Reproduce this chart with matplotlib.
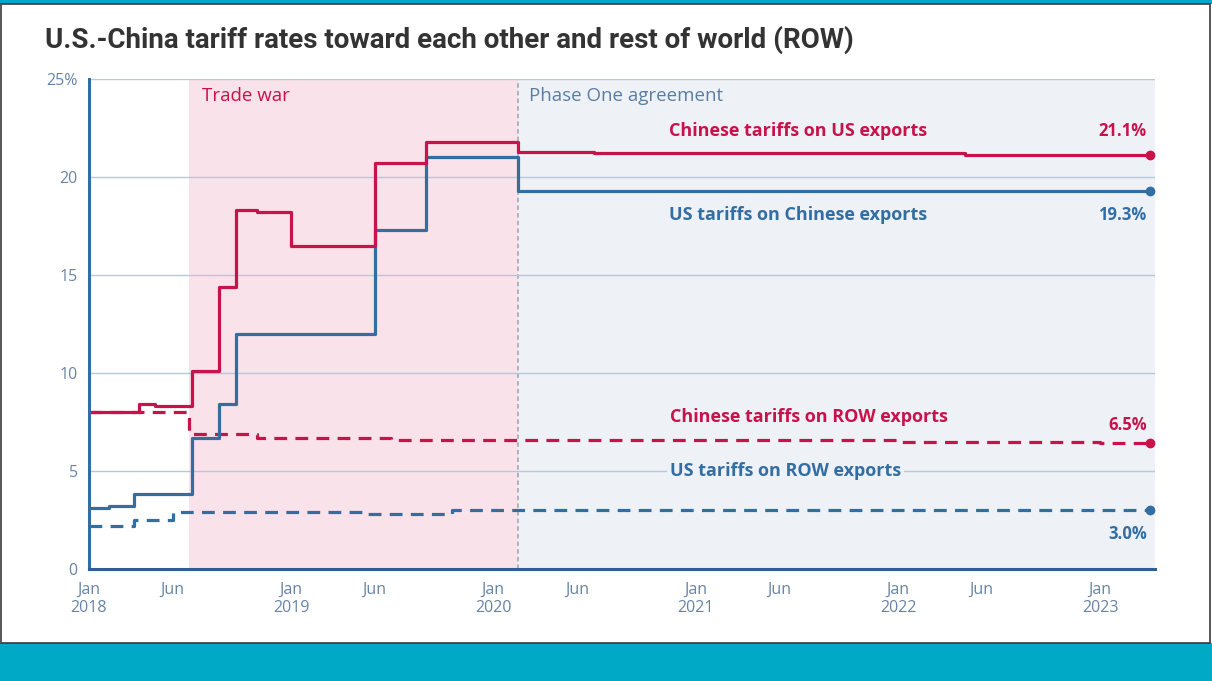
import matplotlib
matplotlib.use("Agg")
import matplotlib.pyplot as plt
import pandas as pd
from matplotlib.patches import Rectangle

# ---------------------------------------------------
# data
# ---------------------------------------------------
cn_us_dates = ["2018-01-01", "2018-04-02", "2018-05-01", "2018-07-06", "2018-08-23",
               "2018-09-24", "2018-11-01", "2019-01-01", "2019-06-01", "2019-09-01",
               "2020-02-14", "2020-07-01", "2022-05-01", "2023-04-01"]
cn_us_vals = [8.0, 8.4, 8.3, 10.1, 14.4, 18.3, 18.2, 16.5, 20.7, 21.8, 21.3, 21.2, 21.1, 21.1]

us_cn_dates = ["2018-01-01", "2018-02-07", "2018-03-23", "2018-07-06", "2018-08-23",
               "2018-09-24", "2019-06-01", "2019-09-01", "2020-02-14", "2023-04-01"]
us_cn_vals = [3.1, 3.2, 3.8, 6.7, 8.4, 12.0, 17.3, 21.0, 19.3, 19.3]

cn_row_dates = ["2018-01-01", "2018-07-01", "2018-11-01", "2019-07-01", "2022-01-01",
                "2023-01-01", "2023-04-01"]
cn_row_vals = [8.0, 6.9, 6.7, 6.6, 6.5, 6.45, 6.45]

us_row_dates = ["2018-01-01", "2018-03-23", "2018-06-01", "2019-05-20", "2019-10-18",
                "2023-04-01"]
us_row_vals = [2.2, 2.5, 2.9, 2.8, 3.0, 3.0]

end_labels = ["21.1%", "19.3%", "6.5%", "3.0%"]
series_names = ["Chinese tariffs on US exports", "US tariffs on Chinese exports",
                "Chinese tariffs on ROW exports", "US tariffs on ROW exports"]

tick_dates = ["2018-01-01", "2018-06-01", "2019-01-01", "2019-06-01", "2020-01-01",
              "2020-06-01", "2021-01-01", "2021-06-01", "2022-01-01", "2022-06-01",
              "2023-01-01"]
tick_labels = ["Jan\n2018", "Jun", "Jan\n2019", "Jun", "Jan\n2020", "Jun",
               "Jan\n2021", "Jun", "Jan\n2022", "Jun", "Jan\n2023"]

trade_war = ("2018-07-01", "2020-02-14")

# ---------------------------------------------------
# style
# ---------------------------------------------------
RED = "#c8124a"
BLUE = "#336ea3"
TICK = "#6784a6"
GRID = "#b9c7d6"
PINK = "#f9e2e9"
PALE = "#eef2f7"
TEAL = "#00aac6"
TITLE = "#333333"
FONT = "Open Sans"

D = pd.to_datetime

fig = plt.figure(figsize=(12.12, 6.81), dpi=100)
ax = fig.add_axes([0.0734, 0.1645, 0.8796, 0.7195])

xmin, xmax = D("2018-01-01"), D("2023-04-10")
ax.set_xlim(xmin, xmax)
ax.set_ylim(0, 25)

ax.axvspan(D(trade_war[0]), D(trade_war[1]), color=PINK, lw=0, zorder=0)
ax.axvspan(D(trade_war[1]), xmax, color=PALE, lw=0, zorder=0)
ax.axvline(D(trade_war[1]), color="#9aa3b0", lw=1.1, dashes=(3, 2), zorder=1)

for y in [5, 10, 15, 20, 25]:
    ax.axhline(y, color=GRID, lw=1.0, zorder=1)

ax.step(D(cn_row_dates), cn_row_vals, where="post", color=RED, lw=2.3,
        dashes=(4, 2.6), zorder=3)
ax.step(D(us_row_dates), us_row_vals, where="post", color=BLUE, lw=2.3,
        dashes=(4, 2.6), zorder=3)
ax.step(D(us_cn_dates), us_cn_vals, where="post", color=BLUE, lw=2.3, zorder=4)
ax.step(D(cn_us_dates), cn_us_vals, where="post", color=RED, lw=2.3, zorder=4)

for d, v, c in [(cn_us_dates, cn_us_vals, RED), (us_cn_dates, us_cn_vals, BLUE),
                (cn_row_dates, cn_row_vals, RED), (us_row_dates, us_row_vals, BLUE)]:
    ax.plot(D(d[-1]), v[-1], "o", color=c, ms=6, zorder=5)

# series labels
LAB = dict(fontsize=13, fontweight="bold", family=FONT, ha="center", va="center", zorder=6)
lab_x = D("2021-07-05")
ax.text(lab_x, 22.35, series_names[0], color=RED, **LAB)
ax.text(lab_x, 18.06, series_names[1], color=BLUE, **LAB)
ax.text(D("2021-07-24"), 7.76, series_names[2], color=RED, **LAB)
ax.text(D("2021-06-12"), 5.0, series_names[3], color=BLUE,
        bbox=dict(boxstyle="square,pad=0.15", fc=PALE, ec="none"), **LAB)

val_x = D("2023-03-26")
for lbl, y, c in zip(end_labels, [22.35, 18.06, 7.35, 1.79], [RED, BLUE, RED, BLUE]):
    ax.text(val_x, y, lbl, color=c, fontsize=12, fontweight="bold", family=FONT,
            ha="right", va="center", zorder=6)

ax.text(D("2018-07-24"), 24.13, "Trade war", color=RED, fontsize=13.5, family=FONT,
        va="center", zorder=6)
ax.text(D("2020-03-05"), 24.13, "Phase One agreement", color="#5a7da3", fontsize=13.5,
        family=FONT, va="center", zorder=6)

# axes
ax.set_xticks(D(tick_dates))
ax.set_xticklabels(tick_labels, color=TICK, fontsize=11.5, family=FONT, linespacing=1.2)
ax.set_yticks([0, 5, 10, 15, 20, 25])
ax.set_yticklabels(["0", "5", "10", "15", "20", "25%"], color=TICK, fontsize=11.5,
                   family=FONT)
ax.tick_params(axis="x", length=0, pad=9)
ax.tick_params(axis="y", length=0, pad=8)
for s in ["top", "right"]:
    ax.spines[s].set_visible(False)
ax.spines["left"].set_color(BLUE)
ax.spines["left"].set_linewidth(2.2)
ax.spines["bottom"].set_color("#2f5f92")
ax.spines["bottom"].set_linewidth(2.2)
ax.spines["left"].set_zorder(6)
ax.spines["bottom"].set_zorder(6)

# frame: teal bands + thin border
fig.add_artist(Rectangle((0, 0), 1, 38 / 681, transform=fig.transFigure,
                         color=TEAL, lw=0, zorder=0))
fig.add_artist(Rectangle((0, 1 - 4 / 681), 1, 4 / 681, transform=fig.transFigure,
                         color=TEAL, lw=0, zorder=0))
fig.add_artist(Rectangle((0.0012, 38 / 681), 0.9973, 1 - 42 / 681,
                         transform=fig.transFigure, fill=False, ec="#3a3a3a", lw=1.2))

fig.text(45 / 1212, 1 - 40 / 681, "U.S.-China tariff rates toward each other and rest of world (ROW)",
         color=TITLE, fontsize=20, fontweight="bold", family="Roboto", va="center")

fig.savefig("out.png", dpi=100)
